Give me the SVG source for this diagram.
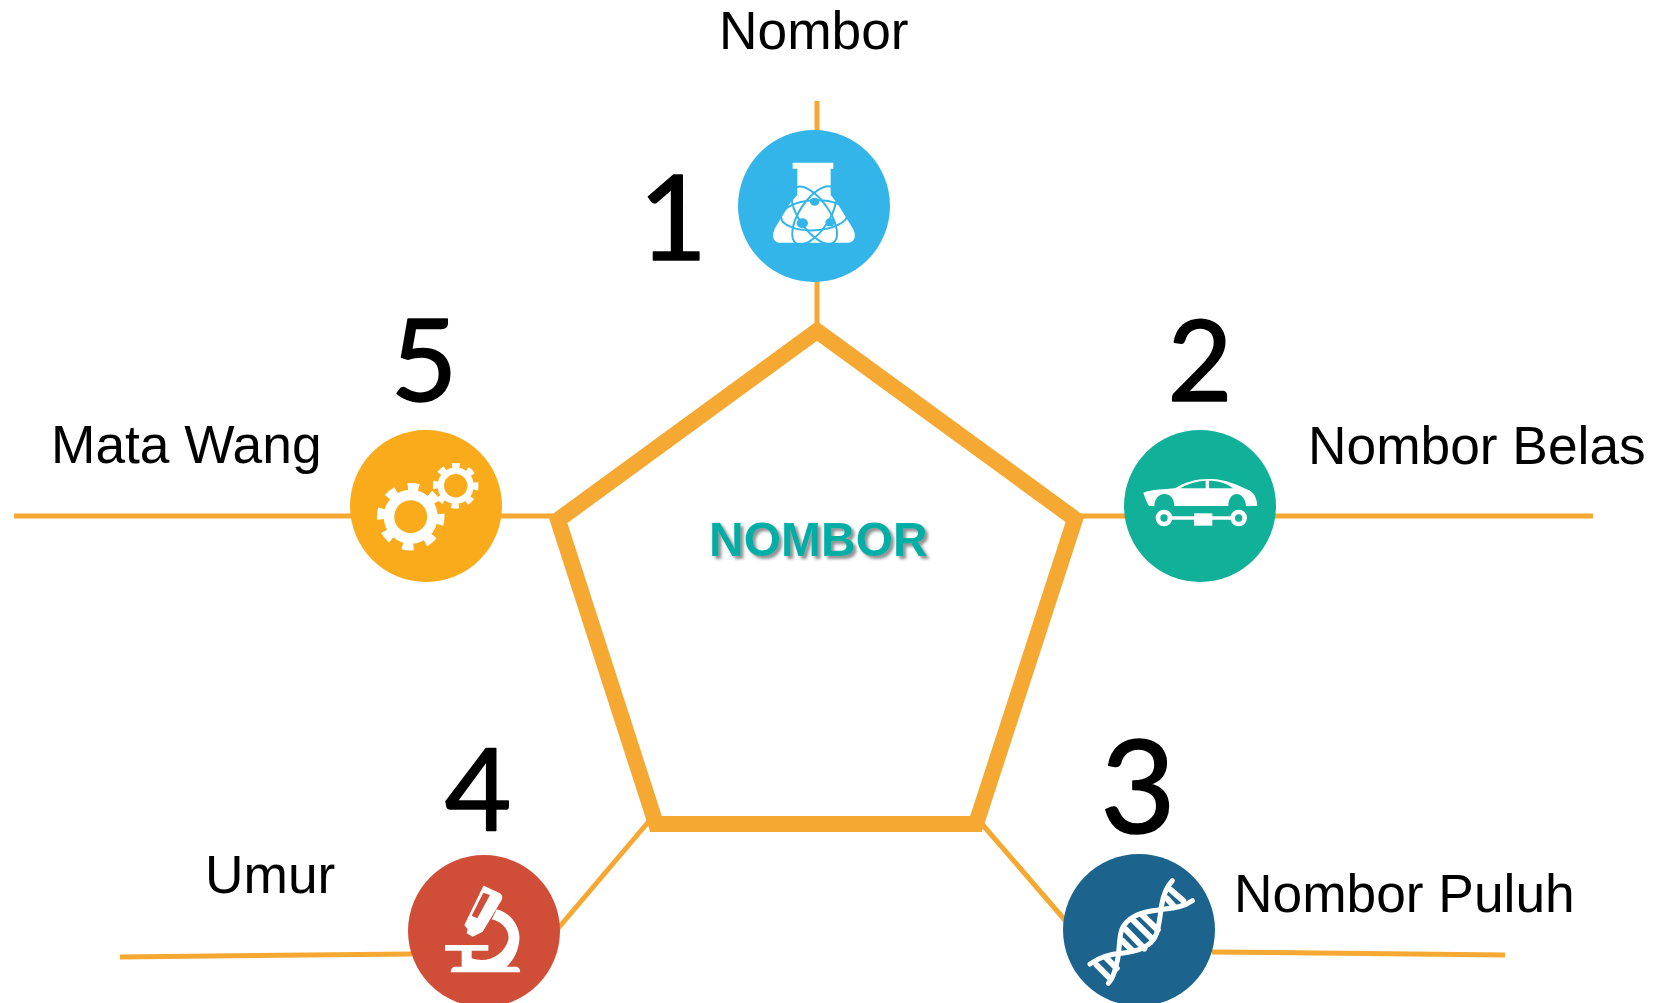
<svg xmlns="http://www.w3.org/2000/svg" width="1654" height="1003" viewBox="0 0 1654 1003">
<style>
.lab{font-family:"Liberation Sans",Arial,sans-serif;font-size:53.3px;fill:#000}
.dig{font-family:Lato,"Open Sans",sans-serif;fill:#000;text-anchor:middle;stroke:#000;stroke-width:1.6;stroke-linejoin:round}
.ln{fill:none;stroke:#f5a832;stroke-width:5}
.w{fill:#fff}
.ws{fill:none;stroke:#fff;stroke-linecap:round}
</style>
<defs><filter id="sh" x="-10%" y="-20%" width="120%" height="150%"><feDropShadow dx="3" dy="3" stdDeviation="1.5" flood-color="#777" flood-opacity=".8"/></filter></defs>
<rect width="1654" height="1003" fill="#fff"/>
<g id="connectors">
<path class="ln" d="M817 101V330"/>
<path class="ln" d="M14 516H560"/>
<path class="ln" d="M1075 516H1593"/>
<path class="ln" d="M120 957L412 954"/>
<path class="ln" d="M1212 952L1505 955"/>
<path class="ln" d="M650 820L555 932"/>
<path class="ln" d="M982 824L1070 926"/>
</g>
<g id="pentagon"><path d="M817 331L1075 519L976 824H656L558 520Z" fill="none" stroke="#f5a832" stroke-width="16"/></g>
<g id="center-label"><text x="709" y="556" font-family="Liberation Sans,Arial,sans-serif" font-weight="700" font-size="48" fill="#00aea6" filter="url(#sh)">NOMBOR</text></g>
<g id="node1">
<circle cx="814" cy="206" r="76" fill="#33b5ea"/>
<g transform="translate(720 120) scale(.33333)">
<path class="w" d="M218 128H340V146H332V225L352 250L398 325C410 345 405 368 385 368H178C158 368 155 345 165 325L210 250L232 225V146H218Z"/>
<g fill="none" stroke="#33b5ea" stroke-width="6"><ellipse cx="283" cy="286" rx="100" ry="45" transform="rotate(-3 283 286)"/><ellipse cx="283" cy="286" rx="100" ry="45" transform="rotate(-57 283 286)"/><ellipse cx="283" cy="286" rx="100" ry="45" transform="rotate(55 283 286)"/></g>
<g fill="#33b5ea"><ellipse cx="284" cy="245" rx="14" ry="12"/><ellipse cx="247" cy="310" rx="17" ry="15"/><ellipse cx="330" cy="307" rx="14" ry="12"/></g>
</g>
<text class="dig" x="673" y="260" font-size="118">1</text>
<text class="lab" x="719" y="49">Nombor</text>
</g>
<g id="node2">
<circle cx="1200" cy="506" r="76" fill="#11b098"/>
<g transform="translate(1115 420) scale(.33333)">
<path class="w" d="M85 218C110 208 150 208 180 205C210 185 250 175 290 177C330 178 370 195 395 208C415 215 425 230 427 258H393C392 235 378 222 365 222C350 222 340 238 340 258H178C178 235 165 222 148 222C130 222 118 240 118 258H102C95 245 90 235 85 218Z"/>
<path fill="#11b098" d="M195 205C220 190 245 184 272 182V205ZM282 182C310 182 335 190 355 205H282Z"/>
<circle cx="147" cy="294" r="18" fill="none" stroke="#fff" stroke-width="14"/><circle cx="371" cy="294" r="18" fill="none" stroke="#fff" stroke-width="14"/>
<path d="M168 294H350" stroke="#fff" stroke-width="10"/><rect class="w" x="237" y="280" width="55" height="37"/>
</g>
<text class="dig" x="1200" y="401" font-size="112">2</text>
<text class="lab" x="1308" y="464">Nombor Belas</text>
</g>
<g id="node3">
<circle cx="1139" cy="930" r="76" fill="#1c648e"/>
<g transform="translate(1055 850) scale(.33333)">
<path class="ws" stroke-width="15" d="M352 92C335 110 325 135 320 165C315 195 315 215 305 250C290 295 240 305 200 310C160 312 130 325 105 342"/>
<path class="ws" stroke-width="15" d="M412 152C380 175 340 175 310 180C260 185 215 200 200 240C190 270 195 310 185 340C180 365 175 385 160 400"/>
<path class="ws" stroke-width="18" stroke-linecap="butt" d="M262 195L308 240M232 208L293 268M212 238L268 296M202 272L232 302M345 118L385 152M335 145L358 170M125 345L165 385M155 325L185 355"/>
</g>
<text class="dig" x="1138" y="833" font-size="130">3</text>
<text class="lab" x="1234" y="912">Nombor Puluh</text>
</g>
<g id="node4">
<circle cx="484" cy="931" r="76" fill="#d04e37"/>
<g transform="translate(400 850) scale(.33333)">
<path class="w" d="M250 108Q252 106 258 110L300 130Q310 137 305 150L262 222L248 245L218 260L200 250L203 238L193 225Z"/>
<path fill="#d04e37" d="M250 128L270 135L232 205L215 197Z"/>
<path class="w" d="M290 178C340 190 362 240 358 270C355 310 335 335 320 350H350Q362 355 360 367H152Q152 352 165 350H185V302H135V285H265V302H215V325C260 340 310 320 325 270C330 240 305 215 275 208Z"/>
</g>
<text class="dig" x="478" y="831" font-size="115">4</text>
<text class="lab" x="205" y="893">Umur</text>
</g>
<g id="node5">
<circle cx="426" cy="506" r="76" fill="#faab1c"/>
<circle cx="410.7" cy="516.7" r="21.7" fill="none" stroke="#fff" stroke-width="10.5"/>
<circle cx="410.7" cy="516.7" r="30" fill="none" stroke="#fff" stroke-width="7.5" stroke-dasharray="11 12.56" transform="rotate(-95.5 410.7 516.7)"/>
<circle cx="455.7" cy="485.7" r="14.9" fill="none" stroke="#fff" stroke-width="6.4"/>
<circle cx="455.7" cy="485.7" r="20.3" fill="none" stroke="#fff" stroke-width="5" stroke-dasharray="7.5 8.44" transform="rotate(-100 455.7 485.7)"/>
<text class="dig" x="424" y="401" font-size="115">5</text>
<text class="lab" x="51" y="463">Mata Wang</text>
</g>
</svg>
